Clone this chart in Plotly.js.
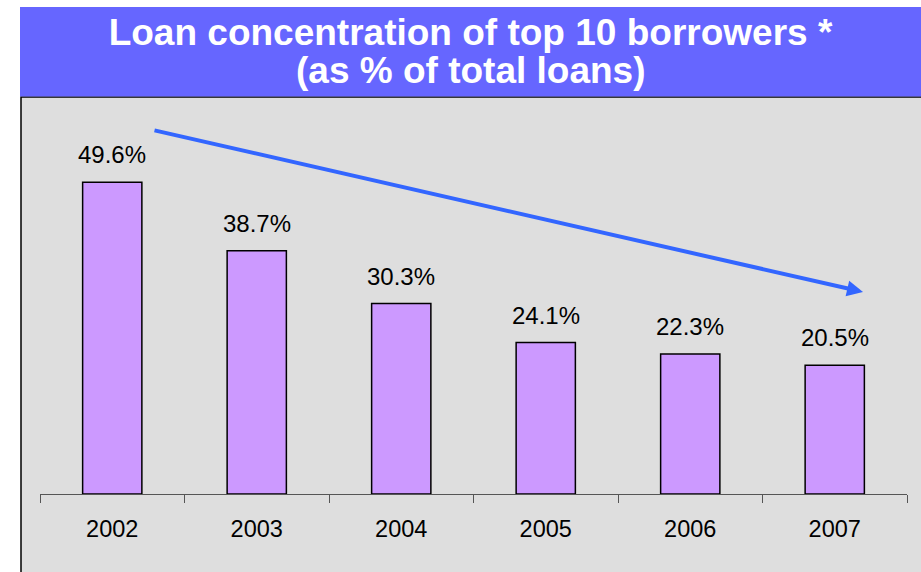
<!DOCTYPE html>
<html>
<head>
<meta charset="utf-8">
<script src="https://cdn.plot.ly/plotly-3.0.1.min.js"></script>
<style>html,body{margin:0;padding:0;background:#fff;}#chart{width:921px;height:572px;}</style>
</head>
<body>
<div id="chart"></div>
<script>
// ---- data ----
const years = ["2002", "2003", "2004", "2005", "2006", "2007"];
const concentration = [49.6, 38.7, 30.3, 24.1, 22.3, 20.5];
const valueLabels = ["49.6%", "38.7%", "30.3%", "24.1%", "22.3%", "20.5%"];
const titleLine1 = "Loan concentration of top 10 borrowers *";
const titleLine2 = "(as % of total loans)";

// ---- layout geometry (pixels) ----
const W = 921, H = 572;
const M = {l: 40, r: 14, t: 117, b: 78};
const PW = W - M.l - M.r, PH = H - M.t - M.b;
const px2x = p => (p - M.l) / PW;
const px2y = p => (H - M.b - p) / PH;
const FONT = "Liberation Sans, Arial, Helvetica, sans-serif";

const trace = {
  type: "bar",
  x: years,
  y: concentration,
  marker: {color: "#CC99FF", line: {color: "#000000", width: 1.5}},
  hoverinfo: "skip"
};

// category index positions on the category axis
const labelAnns = years.map((yr, i) => ({
  xref: "x", yref: "y", x: i, y: concentration[i],
  text: valueLabels[i], showarrow: false,
  yanchor: "bottom", yshift: 12,
  font: {family: FONT, size: 24, color: "#000"}
}));

const layout = {
  width: W, height: H,
  margin: M,
  paper_bgcolor: "#ffffff",
  plot_bgcolor: "rgba(0,0,0,0)",
  showlegend: false,
  bargap: 0.59,
  title: {
    text: "<b>" + titleLine1 + "</b>",
    xref: "paper", x: px2x(470.5), xanchor: "center",
    yref: "container", y: 1 - 31.7 / H, yanchor: "middle",
    font: {family: FONT, size: 37, color: "#ffffff"}
  },
  xaxis: {
    type: "category",
    categoryorder: "array", categoryarray: years,
    range: [-0.5, years.length - 0.5],
    showline: true, linecolor: "#555555", linewidth: 1,
    ticks: "outside", tickson: "boundaries", ticklen: 8, tickcolor: "#555555", tickwidth: 1,
    tickfont: {family: FONT, size: 23.5, color: "#000"},
    ticklabelstandoff: 14,
    tickangle: 0,
    showgrid: false, zeroline: false, fixedrange: true
  },
  yaxis: {
    range: [0, 60], visible: false, showgrid: false, zeroline: false, fixedrange: true
  },
  shapes: [
    {type: "rect", xref: "paper", yref: "paper", layer: "below",
     x0: px2x(21), x1: px2x(940), y0: px2y(97), y1: px2y(590),
     fillcolor: "#DEDEDE", line: {color: "#000000", width: 1.5}},
    {type: "rect", xref: "paper", yref: "paper", layer: "below",
     x0: px2x(20), x1: px2x(940), y0: px2y(7), y1: px2y(96.5),
     fillcolor: "#6666FF", line: {width: 0}}
  ],
  annotations: labelAnns.concat([
    {xref: "paper", yref: "paper", x: px2x(470.5), y: px2y(70.5),
     xanchor: "center", yanchor: "middle", showarrow: false,
     text: "<b>" + titleLine2 + "</b>",
     font: {family: FONT, size: 37, color: "#ffffff"}},
    {xref: "paper", yref: "paper", x: px2x(863), y: px2y(292),
     ax: 153 - 863, ay: 130 - 292, axref: "pixel", ayref: "pixel",
     text: "", showarrow: true, arrowhead: 2, arrowsize: 0.8, arrowwidth: 4,
     arrowcolor: "#3366FF", standoff: 0}
  ])
};

Plotly.newPlot("chart", [trace], layout, {displayModeBar: false, staticPlot: true});
</script>
</body>
</html>
